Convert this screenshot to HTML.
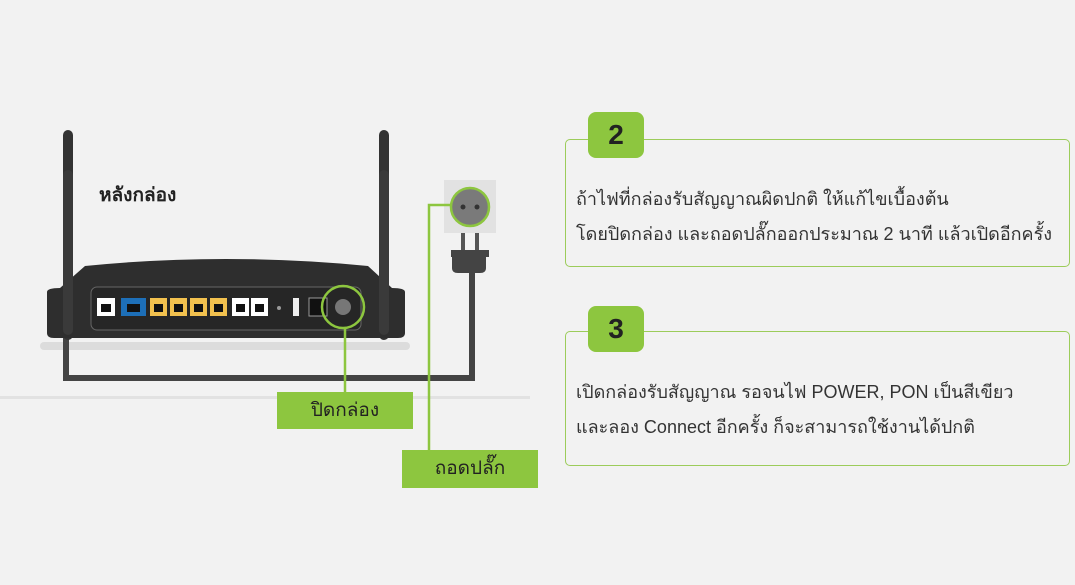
<!DOCTYPE html>
<html><head><meta charset="utf-8"><style>
body{margin:0;width:1075px;height:585px;background:#f2f2f2;overflow:hidden;font-family:"Liberation Sans","DejaVu Sans",sans-serif;position:relative}
.box{position:absolute;left:565px;width:503px;border:1.5px solid #9ccc5a;border-radius:5px;background:#f2f2f2}
.badge{position:absolute;left:588px;width:56px;height:46px;background:#8dc63f;border-radius:8px;font-weight:bold;font-size:28px;color:#222;text-align:center;line-height:46px}
.t{position:absolute;left:576px;font-size:18px;color:#333;white-space:nowrap}
.lab{position:absolute;background:#8dc63f;color:#222;font-size:19px;text-align:center}
</style></head><body>
<svg width="1075" height="585" style="position:absolute;left:0;top:0">
<rect x="40" y="342" width="370" height="8" rx="4" fill="#dcdcdc"/>
<rect x="0" y="396" width="530" height="3" fill="#e2e2e2"/>
<path d="M66 335 V378 H472 V272" stroke="#444" stroke-width="6" fill="none"/>
<rect x="63" y="130" width="10" height="210" rx="5" fill="#333"/>
<rect x="379" y="130" width="10" height="210" rx="5" fill="#333"/>
<path d="M47 292 Q47 288 60 288 L85 266 Q225 252 368 266 L392 288 Q405 288 405 292 V333 Q405 338 398 338 H54 Q47 338 47 333Z" fill="#2e2e2e"/>
<rect x="63" y="170" width="10" height="165" rx="5" fill="#3a3a3a"/>
<rect x="379" y="170" width="10" height="165" rx="5" fill="#3a3a3a"/>
<rect x="91" y="287" width="270" height="43" rx="6" fill="#262626" stroke="#666"/>
<rect x="97" y="298" width="18" height="18" fill="#fff"/>
<rect x="121" y="298" width="25" height="18" fill="#1d6fb8"/>
<rect x="150" y="298" width="17" height="18" fill="#f2c14e"/><rect x="170" y="298" width="17" height="18" fill="#f2c14e"/>
<rect x="190" y="298" width="17" height="18" fill="#f2c14e"/><rect x="210" y="298" width="17" height="18" fill="#f2c14e"/>
<rect x="232" y="298" width="17" height="18" fill="#fff"/><rect x="251" y="298" width="17" height="18" fill="#fff"/>
<g fill="#111">
<rect x="101" y="304" width="10" height="8"/><rect x="127" y="304" width="13" height="8"/>
<rect x="154" y="304" width="9" height="8"/><rect x="174" y="304" width="9" height="8"/>
<rect x="194" y="304" width="9" height="8"/><rect x="214" y="304" width="9" height="8"/>
<rect x="236" y="304" width="9" height="8"/><rect x="255" y="304" width="9" height="8"/>
</g>
<circle cx="279" cy="308" r="2" fill="#999"/>
<rect x="293" y="298" width="6" height="18" fill="#eee"/>
<rect x="309" y="298" width="18" height="18" fill="#111" stroke="#999"/>
<circle cx="343" cy="307" r="8" fill="#777"/>
<circle cx="343" cy="307" r="21" fill="none" stroke="#8dc63f" stroke-width="2.5"/>
<path d="M345 328 V392" stroke="#8dc63f" stroke-width="2.5"/>
<rect x="444" y="180" width="52" height="53" fill="#e2e2e2"/>
<circle cx="470" cy="207" r="19" fill="#7a7a7a" stroke="#8dc63f" stroke-width="2.5"/>
<circle cx="463" cy="207" r="2.5" fill="#333"/><circle cx="477" cy="207" r="2.5" fill="#333"/>
<rect x="461" y="233" width="4" height="18" fill="#555"/><rect x="475" y="233" width="4" height="18" fill="#555"/>
<path d="M451 250 H489 V257 H486 V268 Q486 273 480 273 H458 Q452 273 452 268 V257 H451Z" fill="#444"/>
<path d="M450 205 H429 V450" stroke="#8dc63f" stroke-width="2.5" fill="none"/>
</svg>
<div style="position:absolute;left:99px;top:180px;font-size:19px;font-weight:bold;color:#222">หลังกล่อง</div>
<div class="lab" style="left:277px;top:392px;width:136px;height:37px;line-height:37px">ปิดกล่อง</div>
<div class="lab" style="left:402px;top:450px;width:136px;height:38px;line-height:38px">ถอดปลั๊ก</div>
<div class="box" style="top:139px;height:126px"></div>
<div class="badge" style="top:112px">2</div>
<div class="t" style="top:184px">ถ้าไฟที่กล่องรับสัญญาณผิดปกติ ให้แก้ไขเบื้องต้น</div>
<div class="t" style="top:219px">โดยปิดกล่อง และถอดปลั๊กออกประมาณ 2 นาที แล้วเปิดอีกครั้ง</div>
<div class="box" style="top:331px;height:133px"></div>
<div class="badge" style="top:306px">3</div>
<div class="t" style="top:377px">เปิดกล่องรับสัญญาณ รอจนไฟ POWER, PON เป็นสีเขียว</div>
<div class="t" style="top:412px">และลอง Connect อีกครั้ง ก็จะสามารถใช้งานได้ปกติ</div>
</body></html>
